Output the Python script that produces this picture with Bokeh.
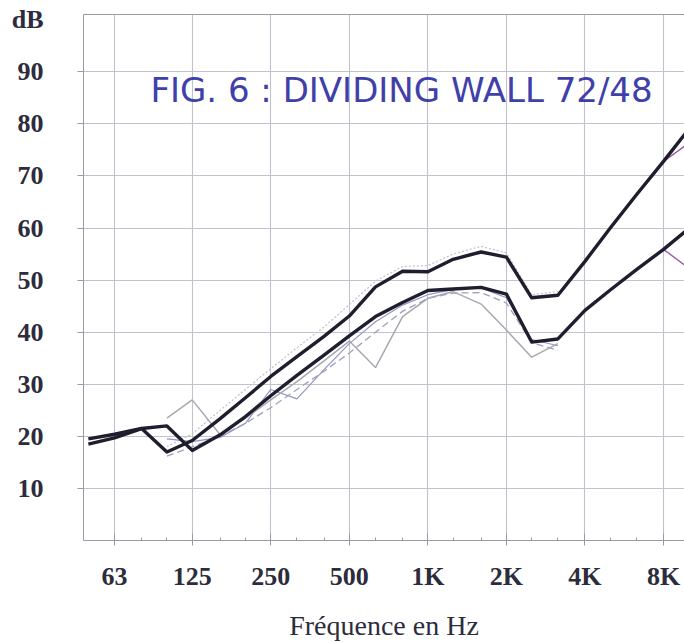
from bokeh.plotting import figure
from bokeh.models import Range1d, FixedTicker, LinearAxis, Label
from bokeh.embed import file_html
from bokeh.resources import INLINE

# third-octave band centre frequencies (Hz)
freq_bold = [50, 63, 80, 100, 125, 160, 200, 250, 315, 400, 500, 630, 800,
             1000, 1250, 1600, 2000, 2500, 3150, 4000, 5000, 6300, 8000, 10000]
# measured range 100 Hz - 3150 Hz
freq_meas = [100, 125, 160, 200, 250, 315, 400, 500, 630, 800,
             1000, 1250, 1600, 2000, 2500, 3150]
freq_tail = [8000, 10000]

# bold curves (dB)
upper_db = [19.5, 20.4, 21.5, 17.0, 19.2, 23.4, 27.4, 31.5, 35.3, 39.2, 43.1, 48.7,
            51.7, 51.6, 54.0, 55.4, 54.4, 46.6, 47.1, 53.6, 60.0, 66.4, 72.8, 79.0]
lower_db = [18.5, 19.7, 21.5, 22.0, 17.3, 20.3, 23.8, 27.8, 31.7, 35.6, 39.3, 43.0,
            45.7, 48.0, 48.3, 48.6, 47.3, 38.1, 38.7, 44.2, 48.1, 52.0, 55.9, 59.9]

# thin measured curves (dB)
meas_a = [23.5, 27.0, 20.3, 23.5, 27.0, 30.5, 34.5, 38.3, 33.2, 43.0,
          46.5, 47.8, 45.4, 40.4, 35.2, 37.8]
meas_b = [16.2, 18.0, 20.0, 22.5, 25.5, 29.0, 32.5, 36.0, 40.0, 44.0,
          46.5, 47.5, 47.6, 45.6, 38.0, 36.5]
meas_c = [18.0, 20.5, 25.0, 29.0, 33.0, 37.0, 41.0, 45.3, 49.8, 52.6,
          52.8, 55.0, 56.5, 55.2, 47.2, 47.8]
meas_d = [19.5, 19.0, 19.8, 22.5, 29.0, 27.2, 32.8, 37.8, 42.0, 45.2,
          47.2, 48.2, 48.5, 46.6, 38.6, 37.4]

# high-frequency references (dB)
ref_hi = [72.8, 76.3]
ref_lo = [55.9, 52.3]

octave_ticks = [63, 125, 250, 500, 1000, 2000, 4000, 8000]
octave_labels = {1000: "1K", 2000: "2K", 4000: "4K", 8000: "8K"}
third_ticks = [80, 100, 160, 200, 315, 400, 630, 800, 1250, 1600,
               2500, 3150, 5000, 6300]
db_ticks = [10, 20, 30, 40, 50, 60, 70, 80, 90]
db_label_ticks = db_ticks + [100]
db_labels = {100: "dB"}

p = figure(width=684, height=643, x_axis_type="log",
           x_range=Range1d(47.9, 9627), y_range=Range1d(0, 101),
           output_backend="svg", toolbar_location=None,
           min_border_left=83, min_border_right=0, min_border_top=14,
           min_border_bottom=98)
p.outline_line_color = None
p.background_fill_color = "white"
p.border_fill_color = "white"

axis_col = "#9a9aa4"
label_col = "#2c2c3c"
serif = "Liberation Serif"

xa = p.xaxis[0]
xa.ticker = FixedTicker(ticks=octave_ticks, minor_ticks=third_ticks)
xa.major_label_overrides = octave_labels
xa.axis_line_color = axis_col
xa.major_tick_line_color = axis_col
xa.minor_tick_line_color = axis_col
xa.major_tick_in = 7
xa.major_tick_out = 5
xa.minor_tick_in = 3
xa.minor_tick_out = 0
xa.major_label_text_font = serif
xa.major_label_text_font_size = "26px"
xa.major_label_text_font_style = "bold"
xa.major_label_text_color = label_col
xa.major_label_standoff = 16
xa.axis_label = "Fréquence en Hz"
xa.axis_label_text_font = serif
xa.axis_label_text_font_size = "28px"
xa.axis_label_text_font_style = "normal"
xa.axis_label_text_color = label_col
xa.axis_label_standoff = 16

# inner y axis: line and tick marks only
ya = p.yaxis[0]
ya.ticker = FixedTicker(ticks=db_ticks)
ya.major_label_overrides = {t: "" for t in db_ticks}
ya.axis_line_color = axis_col
ya.major_tick_line_color = axis_col
ya.minor_tick_line_color = None
ya.major_tick_in = 0
ya.major_tick_out = 6
ya.major_label_standoff = 0

# outer y axis: the labels, with the unit on top
ya_lab = LinearAxis(ticker=FixedTicker(ticks=db_label_ticks),
                    major_label_overrides=db_labels,
                    axis_line_color=None, major_tick_line_color=None,
                    minor_tick_line_color=None, major_tick_in=0, major_tick_out=0,
                    major_label_text_font=serif, major_label_text_font_size="26px",
                    major_label_text_font_style="bold",
                    major_label_text_color=label_col, major_label_standoff=34)
p.add_layout(ya_lab, "left")

# top border line of the chart frame
top = LinearAxis(ticker=FixedTicker(ticks=[]), major_tick_in=0, major_tick_out=0,
                 minor_tick_in=0, minor_tick_out=0, major_label_text_font_size="0px",
                 axis_line_color=axis_col)
p.add_layout(top, "above")

p.xgrid.ticker = FixedTicker(ticks=octave_ticks)
p.ygrid.ticker = FixedTicker(ticks=db_ticks)
for g in (p.xgrid[0], p.ygrid[0]):
    g.grid_line_color = "#c2c2cc"
    g.grid_line_width = 1.1

# thin measured curves
p.line(freq_meas, meas_c, line_color="#c4c4d2", line_width=1.3, line_dash="2 2")
p.line(freq_meas, meas_d, line_color="#9494c8", line_width=1.2)
p.line(freq_meas, meas_b, line_color="#a0a0bc", line_width=1.3, line_dash="7 4")
p.line(freq_meas, meas_a, line_color="#a8a8b0", line_width=1.5)

# high-frequency reference segments
p.line(freq_tail, ref_hi, line_color="#9a5aa8", line_width=1.4)
p.line(freq_tail, ref_lo, line_color="#9a5aa8", line_width=1.4)

# bold curves
p.line(freq_bold, lower_db, line_color="#1e1e2e", line_width=3.4, line_join="round")
p.line(freq_bold, upper_db, line_color="#1e1e2e", line_width=3.4, line_join="round")

p.add_layout(Label(x=401, y=86.5, x_units="canvas", y_units="data",
                   text="FIG. 6 : DIVIDING WALL 72/48",
                   text_font="DejaVu Sans", text_font_size="34px",
                   text_color="#4040aa", text_align="center",
                   text_baseline="middle"))

open("out.html", "w").write(file_html(p, INLINE))
